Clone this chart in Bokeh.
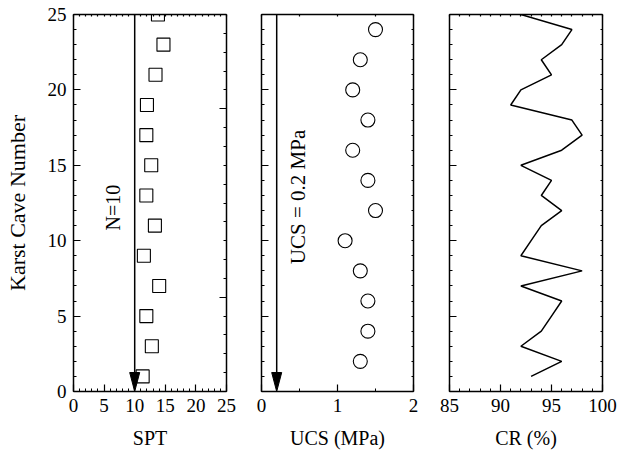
from bokeh.plotting import figure
from bokeh.layouts import row
from bokeh.models import Range1d, LinearAxis, FixedTicker, Label, ColumnDataSource, CustomJSTickFormatter
from bokeh.embed import file_html
from bokeh.resources import INLINE
import numpy as np

# ---- data ----
spt_cave = [1, 3, 5, 7, 9, 11, 13, 15, 17, 19, 21, 23, 25]
spt_val = [11.3, 12.8, 11.9, 14.0, 11.5, 13.3, 11.9, 12.7, 11.9, 12.0, 13.4, 14.7, 13.8]

ucs_cave = [2, 4, 6, 8, 10, 12, 14, 16, 18, 20, 22, 24]
ucs_val = [1.3, 1.4, 1.4, 1.3, 1.1, 1.5, 1.4, 1.2, 1.4, 1.2, 1.3, 1.5]

cr_cave = list(range(1, 26))
cr_val = [93, 96, 92, 94, 95, 96, 92, 98, 92, 93, 94, 96, 94, 95, 92, 96, 98, 97, 91, 92, 95, 94, 96, 97, 92]

spt_limit = 10
ucs_limit = 0.2

FONT = "Liberation Serif"
TICK_FS = "19px"
LAB_FS = "20px"

FRAME_H = 377
TOP = 14
BOTTOM = 60
H = TOP + FRAME_H + BOTTOM


def style_axis(ax, major_in=7, minor_in=3, labels=True):
    ax.major_tick_in = major_in
    ax.major_tick_out = 0
    ax.minor_tick_in = minor_in
    ax.minor_tick_out = 0
    ax.axis_line_width = 1.5
    ax.axis_line_color = "black"
    ax.major_tick_line_color = "black"
    ax.minor_tick_line_color = "black"
    ax.major_tick_line_width = 1.2
    ax.minor_tick_line_width = 1.0
    ax.major_label_text_font = FONT
    ax.axis_label_text_font = FONT
    ax.axis_label_text_font_style = "normal"
    ax.major_label_text_color = "black"
    ax.axis_label_text_color = "black"
    if labels:
        ax.major_label_text_font_size = TICK_FS
        ax.axis_label_text_font_size = LAB_FS
        ax.major_label_standoff = 7
    else:
        ax.formatter = CustomJSTickFormatter(code="return ''")
        ax.major_label_text_font_size = "1px"
        ax.major_label_standoff = 0


def make_panel(xr, xticks, xminor, xlabel, left, frame_w, right, show_ylabels, top_minor, right_cfg):
    p = figure(width=left + frame_w + right, height=H, x_range=Range1d(*xr), y_range=Range1d(0, 25),
               output_backend="svg", toolbar_location=None,
               min_border_left=left, min_border_right=right, min_border_top=TOP, min_border_bottom=BOTTOM,
               x_axis_location=None, y_axis_location=None)
    p.grid.visible = False
    p.outline_line_color = None
    p.background_fill_color = "white"
    p.border_fill_color = "white"

    yl = LinearAxis(ticker=FixedTicker(ticks=[0, 5, 10, 15, 20, 25], minor_ticks=list(range(0, 26))))
    style_axis(yl, labels=show_ylabels)
    if show_ylabels:
        yl.axis_label = "Karst Cave Number"
        yl.axis_label_text_font_size = "22px"
        yl.axis_label_standoff = 15
    p.add_layout(yl, "left")

    xb = LinearAxis(ticker=FixedTicker(ticks=xticks, minor_ticks=xminor), axis_label=xlabel)
    style_axis(xb)
    xb.axis_label_standoff = 12
    p.add_layout(xb, "below")

    xt = LinearAxis(ticker=FixedTicker(ticks=top_minor, minor_ticks=[]))
    style_axis(xt, major_in=2, minor_in=0, labels=False)
    p.add_layout(xt, "above")

    if right_cfg is None:
        yr = LinearAxis(ticker=FixedTicker(ticks=list(range(0, 26)), minor_ticks=[]))
        style_axis(yr, major_in=2, minor_in=0, labels=False)
        p.add_layout(yr, "right")
    else:
        p.extra_y_ranges = {"r": Range1d(0, 20)}
        yr = LinearAxis(y_range_name="r", ticker=FixedTicker(ticks=[5, 15], minor_ticks=list(range(0, 21))))
        style_axis(yr, labels=False)
        p.add_layout(yr, "right")
    return p


def add_arrow(p, xv, px_per_unit_x):
    px_per_unit_y = FRAME_H / 25.0
    head_len = 19 / px_per_unit_y
    half_w = 5 / px_per_unit_x
    p.line([xv, xv], [25, head_len], line_color="black", line_width=1.5)
    p.patch([xv - half_w, xv + half_w, xv], [head_len, head_len, 0], fill_color="black", line_color="black")


# Panel 1: SPT
p1 = make_panel((0, 25), [0, 5, 10, 15, 20, 25], list(range(0, 26)), "SPT", 73, 153, 15, True,
                list(range(0, 26)), "odd")
src1 = ColumnDataSource(dict(x=spt_val, y=spt_cave))
p1.scatter("x", "y", source=src1, marker="square", size=13, fill_color=None, line_color="black", line_width=1.1)
add_arrow(p1, spt_limit, 153 / 25.0)
p1.add_layout(Label(x=spt_limit, y=12.2, x_offset=-22, text="N=10", angle=np.pi / 2, text_align="center",
                    text_baseline="middle", text_font=FONT, text_font_size="20px", text_color="black"))

# Panel 2: UCS
p2 = make_panel((0, 2), [0, 1, 2], [0, 0.5, 1, 1.5, 2], "UCS (MPa)", 20, 152, 15, False,
                [0, 0.5, 1, 1.5, 2], None)
src2 = ColumnDataSource(dict(x=ucs_val, y=ucs_cave))
p2.scatter("x", "y", source=src2, marker="circle", size=14, fill_color=None, line_color="black", line_width=1.1)
add_arrow(p2, ucs_limit, 152 / 2.0)
p2.add_layout(Label(x=ucs_limit, y=12.9, x_offset=21, text="UCS = 0.2 MPa", angle=np.pi / 2, text_align="center",
                    text_baseline="middle", text_font=FONT, text_font_size="21px", text_color="black"))

# Panel 3: CR
p3 = make_panel((85, 100), [85, 90, 95, 100], list(range(85, 101)), "CR (%)", 21, 153, 20, False,
                list(range(85, 101)), None)
src3 = ColumnDataSource(dict(x=cr_val, y=cr_cave))
p3.line("x", "y", source=src3, line_color="black", line_width=1.5)

layout = row(p1, p2, p3, spacing=0)

open("out.html", "w").write(file_html(layout, INLINE))
